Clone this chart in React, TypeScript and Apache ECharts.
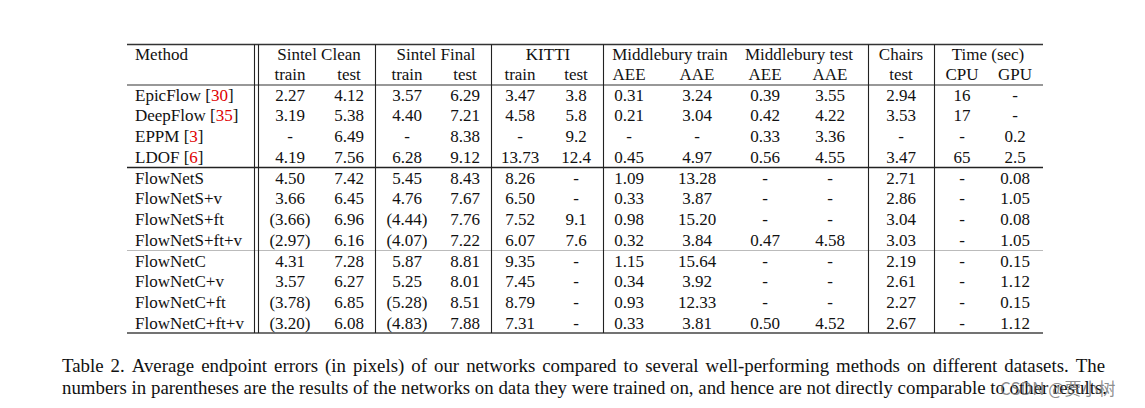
import React, { useEffect, useRef } from "react";
import * as echarts from "echarts";

// ---- data ----
const methods = [
  "EpicFlow", "DeepFlow", "EPPM", "LDOF",
  "FlowNetS", "FlowNetS+v", "FlowNetS+ft", "FlowNetS+ft+v",
  "FlowNetC", "FlowNetC+v", "FlowNetC+ft", "FlowNetC+ft+v",
];
const citations = ["30", "35", "3", "6", "", "", "", "", "", "", "", ""];
const sintelCleanTrain = ["2.27", "3.19", "-", "4.19", "4.50", "3.66", "(3.66)", "(2.97)", "4.31", "3.57", "(3.78)", "(3.20)"];
const sintelCleanTest = ["4.12", "5.38", "6.49", "7.56", "7.42", "6.45", "6.96", "6.16", "7.28", "6.27", "6.85", "6.08"];
const sintelFinalTrain = ["3.57", "4.40", "-", "6.28", "5.45", "4.76", "(4.44)", "(4.07)", "5.87", "5.25", "(5.28)", "(4.83)"];
const sintelFinalTest = ["6.29", "7.21", "8.38", "9.12", "8.43", "7.67", "7.76", "7.22", "8.81", "8.01", "8.51", "7.88"];
const kittiTrain = ["3.47", "4.58", "-", "13.73", "8.26", "6.50", "7.52", "6.07", "9.35", "7.45", "8.79", "7.31"];
const kittiTest = ["3.8", "5.8", "9.2", "12.4", "-", "-", "9.1", "7.6", "-", "-", "-", "-"];
const mbTrainAEE = ["0.31", "0.21", "-", "0.45", "1.09", "0.33", "0.98", "0.32", "1.15", "0.34", "0.93", "0.33"];
const mbTrainAAE = ["3.24", "3.04", "-", "4.97", "13.28", "3.87", "15.20", "3.84", "15.64", "3.92", "12.33", "3.81"];
const mbTestAEE = ["0.39", "0.42", "0.33", "0.56", "-", "-", "-", "0.47", "-", "-", "-", "0.50"];
const mbTestAAE = ["3.55", "4.22", "3.36", "4.55", "-", "-", "-", "4.58", "-", "-", "-", "4.52"];
const chairsTest = ["2.94", "3.53", "-", "3.47", "2.71", "2.86", "3.04", "3.03", "2.19", "2.61", "2.27", "2.67"];
const timeCPU = ["16", "17", "-", "65", "-", "-", "-", "-", "-", "-", "-", "-"];
const timeGPU = ["-", "-", "0.2", "2.5", "0.08", "1.05", "0.08", "1.05", "0.15", "1.12", "0.15", "1.12"];

const groupHeaders = ["Sintel Clean", "Sintel Final", "KITTI", "Middlebury train", "Middlebury test", "Chairs", "Time (sec)"];
const subHeaders = ["train", "test", "train", "test", "train", "test", "AEE", "AAE", "AEE", "AAE", "test", "CPU", "GPU"];

const captionLine1 = "Table 2. Average endpoint errors (in pixels) of our networks compared to several well-performing methods on different datasets.  The";
const captionLine2 = "numbers in parentheses are the results of the networks on data they were trained on, and hence are not directly comparable to other results.";
const watermark = "CSDN @贾小树";

// ---- layout ----
const FONT = "Liberation Serif, Times New Roman, serif";
const FS = 17;
const colX = [290, 349, 407, 465, 520, 576, 629, 697, 765, 830, 901, 962, 1015];
const groupX = [319, 436, 548, 670, 799, 901, 988];
const tableL = 127, tableR = 1043;
const yTop = 44.5, yHead = 85, yGroup1 = 167.5, yGroup2 = 250.5, yBottom = 333;
const vLines = [254, 258, 375, 491, 603, 868, 934];
const rowY0 = 95, rowStep = 20.75;
const headY1 = 54, headY2 = 74;

function measure(text: string, font: string) {
  const c = document.createElement("canvas").getContext("2d")!;
  c.font = font;
  return c.measureText(text).width;
}

export default function App() {
  const ref = useRef<HTMLDivElement>(null);
  useEffect(() => {
    const chart = echarts.init(ref.current!, null, { renderer: "svg" });
    const els: any[] = [];
    const txt = (text: string, x: number, y: number, align = "center", extra: any = {}) =>
      els.push({
        type: "text",
        style: {
          text, x, y, align, verticalAlign: "middle",
          fill: "#111", fontSize: FS, fontFamily: FONT, ...extra,
        },
      });
    const line = (x1: number, y1: number, x2: number, y2: number, stroke = "#222", w = 1.2) =>
      els.push({ type: "line", shape: { x1, y1, x2, y2 }, style: { stroke, lineWidth: w } });

    // rules
    line(tableL, yTop, tableR, yTop, "#333", 1.4);
    line(tableL, yHead, tableR, yHead, "#333", 1.2);
    line(tableL, yGroup1, tableR, yGroup1, "#222", 1.3);
    line(tableL, yGroup2, tableR, yGroup2, "#bbb", 1.2);
    line(tableL, yBottom, tableR, yBottom, "#444", 1.4);
    vLines.forEach((x) => line(x + 0.5, yTop, x + 0.5, yBottom, "#222", 1.1));

    // headers
    txt("Method", 135, headY1, "left");
    groupHeaders.forEach((h, i) => txt(h, groupX[i], headY1));
    subHeaders.forEach((h, i) => txt(h, colX[i], headY2));

    // rows
    const cols = [sintelCleanTrain, sintelCleanTest, sintelFinalTrain, sintelFinalTest, kittiTrain, kittiTest,
      mbTrainAEE, mbTrainAAE, mbTestAEE, mbTestAAE, chairsTest, timeCPU, timeGPU];
    methods.forEach((m, r) => {
      const y = rowY0 + rowStep * r;
      const cit = citations[r];
      if (cit) {
        els.push({
          type: "text",
          style: {
            text: `${m} [{c|${cit}}]`, x: 135, y, align: "left", verticalAlign: "middle",
            fill: "#111", fontSize: FS, fontFamily: FONT,
            rich: { c: { fill: "#e00000", fontSize: FS, fontFamily: FONT } },
          },
        });
      } else {
        txt(m, 135, y, "left");
      }
      cols.forEach((col, c) => txt(col[r], colX[c], y));
    });

    // caption (line 1 justified)
    const capFS = 18.85;
    const capFont = `${capFS}px Liberation Serif`;
    const words = captionLine1.split(/\s+/);
    const capL = 62, capR = 1105;
    const widths = words.map((w) => measure(w, capFont));
    const total = widths.reduce((a, b) => a + b, 0);
    const gap = (capR - capL - total) / (words.length - 1);
    let cx = capL;
    words.forEach((w, i) => {
      txt(w, cx, 365, "left", { fontSize: capFS, fill: "#111" });
      cx += widths[i] + gap;
    });
    txt(captionLine2, capL, 387, "left", { fontSize: capFS, fill: "#111" });
    txt(watermark, 1000, 387, "left", {
      fontSize: 17, fill: "rgba(110,110,110,0.8)",
      fontFamily: "Noto Sans CJK SC, Noto Sans, sans-serif",
    });

    chart.setOption({
      animation: false,
      backgroundColor: "#fff",
      graphic: { elements: els },
    });
    return () => chart.dispose();
  }, []);
  return (
    <div
      ref={ref}
      style={{ position: "fixed", left: 0, top: 0, width: 1145, height: 408, background: "#fff" }}
    />
  );
}
